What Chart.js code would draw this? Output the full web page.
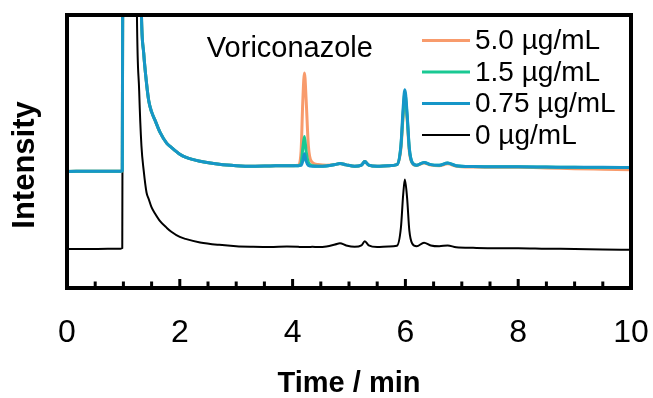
<!DOCTYPE html>
<html>
<head>
<meta charset="utf-8">
<title>Voriconazole chromatogram</title>
<script src="https://cdn.jsdelivr.net/npm/chart.js@4.4.0/dist/chart.umd.min.js"></script>
<style>
    html, body { margin: 0; padding: 0; background: #fff; }
    #wrap { width: 653px; height: 398px; }
</style>
</head>
<body>
<div id="wrap"><canvas id="chromatogramChart"></canvas></div>
<script>
// retention time (min)
const times = [0, 0.5, 0.95, 0.98, 1.01, 1.1, 1.2, 1.235, 1.28, 1.32, 1.36, 1.41, 1.45, 1.5, 1.56, 1.65,
    1.77, 1.85, 2.0, 2.1, 2.36, 2.7, 3.0, 3.3, 3.6, 3.9, 4.1, 4.15, 4.18, 4.21, 4.24, 4.28,
    4.35, 4.45, 4.6, 4.75, 4.84, 4.95, 5.1, 5.22, 5.28, 5.35, 5.5, 5.7, 5.85, 5.92, 5.96, 5.99,
    6.03, 6.07, 6.12, 6.2, 6.33, 6.45, 6.6, 6.75, 6.9, 7.2, 7.6, 8.0, 8.5, 9.0, 9.5, 10];

// intensity (arbitrary units, offset traces)
const conc5 = [42.7, 42.8, 42.8, 43.0, 300, 400, 350, 250, 160, 100, 86, 75, 68.5, 64.5, 61.5, 57,
    53, 51.5, 49, 47.9, 46.4, 45.3, 44.8, 44.6, 44.7, 44.8, 45.0, 50, 68, 78.8, 69, 52,
    46, 45.2, 45.0, 45.2, 45.6, 45.1, 44.6, 45.0, 46.3, 45.0, 44.6, 44.8, 45.2, 51, 63, 70,
    62, 50, 45.8, 44.9, 45.8, 45.0, 44.8, 45.5, 44.6, 44.3, 44.2, 44.2, 44.0, 43.7, 43.5, 43.3];
const conc15 = [42.7, 42.8, 42.8, 43.0, 300, 400, 350, 250, 160, 100, 86, 75, 68.5, 64.5, 61.5, 57,
    53, 51.5, 49, 47.9, 46.4, 45.3, 44.8, 44.6, 44.7, 44.8, 44.8, 45.6, 51, 55.5, 50, 46,
    44.8, 44.6, 44.7, 45.2, 45.6, 45.1, 44.6, 45.0, 46.3, 45.0, 44.6, 44.8, 45.2, 52, 64, 71.5,
    63, 51, 46, 45.0, 46.0, 45.2, 45.0, 45.8, 44.8, 44.5, 44.4, 44.4, 44.3, 44.2, 44.1, 44.1];
const conc075 = [42.7, 42.8, 42.8, 43.0, 300, 400, 350, 250, 160, 100, 86, 75, 68.5, 64.5, 61.5, 57,
    53, 51.5, 49, 47.9, 46.4, 45.3, 44.8, 44.6, 44.7, 44.8, 44.8, 44.9, 46.5, 49.2, 46.5, 44.9,
    44.6, 44.6, 44.7, 45.2, 45.6, 45.1, 44.6, 45.0, 46.3, 45.0, 44.6, 44.8, 45.2, 52, 66, 72.6,
    64, 51, 46, 45.0, 46.0, 45.2, 45.0, 45.8, 44.8, 44.5, 44.4, 44.4, 44.3, 44.2, 44.2, 44.1];
const conc0 = [14.3, 14.3, 14.4, 14.6, 300, 400, 250, 110, 72, 52, 43, 35, 32.5, 29.5, 27.3, 24.5,
    22, 20.6, 18.7, 18, 16.7, 15.8, 15.3, 15.1, 15.0, 15.2, 15.1, 15.0, 15.0, 15.0, 15.0, 15.0,
    15.1, 15.0, 15.2, 15.9, 16.4, 15.6, 15.1, 15.6, 17.1, 15.6, 15.0, 15.2, 15.5, 22, 34, 39.7,
    33, 21, 16.3, 15.3, 16.6, 15.6, 15.3, 15.6, 14.9, 14.7, 14.6, 14.6, 14.4, 14.3, 14.1, 14.0];

const seriesLabels = ['5.0 µg/mL', '1.5 µg/mL', '0.75 µg/mL', '0 µg/mL'];
const seriesColors = ['#F89B6C', '#19C993', '#1696C8', '#000000'];
const xTickLabels = [0, 2, 4, 6, 8, 10];

const fontFamily = '"Liberation Sans", Arial, sans-serif';
Chart.defaults.font.family = fontFamily;
Chart.defaults.color = '#000';

function toPoints(values) {
    return times.map((t, i) => ({ x: t, y: values[i] }));
}

// frame, inward ticks, legend and labels drawn on top of the plot
const framePlugin = {
    id: 'framePlugin',
    afterDraw(chart) {
        const { ctx, chartArea: a, scales: { x } } = chart;
        ctx.save();
        ctx.strokeStyle = '#000';

        // inward tick marks every 0.5 min, longer at labelled ones
        ctx.lineWidth = 3;
        x.ticks.forEach(tick => {
            if (tick.value <= 0 || tick.value >= 10) return;
            const px = x.getPixelForValue(tick.value);
            const len = xTickLabels.includes(tick.value) ? 9 : 6.5;
            ctx.beginPath();
            ctx.moveTo(px, a.bottom);
            ctx.lineTo(px, a.bottom - len);
            ctx.stroke();
        });

        ctx.lineWidth = 4;
        ctx.strokeRect(a.left, a.top, a.right - a.left, a.bottom - a.top);

        // legend
        ctx.font = '28px ' + fontFamily;
        ctx.textBaseline = 'middle';
        ctx.textAlign = 'left';
        seriesLabels.forEach((label, i) => {
            const y = a.top + 25.5 + i * 31.5;
            ctx.strokeStyle = seriesColors[i];
            ctx.lineWidth = i === 3 ? 2 : 3;
            ctx.beginPath();
            ctx.moveTo(a.right - 209, y);
            ctx.lineTo(a.right - 161, y);
            ctx.stroke();
            ctx.fillStyle = '#000';
            ctx.fillText(label, a.right - 156, y + 1);
        });

        // peak annotation
        ctx.font = '29px ' + fontFamily;
        ctx.textBaseline = 'alphabetic';
        ctx.fillText('Voriconazole', x.getPixelForValue(2.48), a.top + 41.5);

        // y axis title
        ctx.font = 'bold 31px ' + fontFamily;
        ctx.textAlign = 'center';
        ctx.textBaseline = 'middle';
        ctx.translate(25, 165);
        ctx.rotate(-Math.PI / 2);
        ctx.fillText('Intensity', 0, 0);
        ctx.restore();
    }
};

const ctx = document.getElementById('chromatogramChart').getContext('2d');
window.chromatogramChart = new Chart(ctx, {
    type: 'line',
    data: {
        datasets: [
            { label: seriesLabels[0], data: toPoints(conc5), borderColor: seriesColors[0], borderWidth: 3, order: 2 },
            { label: seriesLabels[1], data: toPoints(conc15), borderColor: seriesColors[1], borderWidth: 3, order: 1 },
            { label: seriesLabels[2], data: toPoints(conc075), borderColor: seriesColors[2], borderWidth: 3, order: 0 },
            { label: seriesLabels[3], data: toPoints(conc0), borderColor: seriesColors[3], borderWidth: 2, order: 3 }
        ]
    },
    options: {
        responsive: true,
        maintainAspectRatio: false,
        animation: false,
        layout: { padding: { left: 67, right: 22, top: 15, bottom: 0 } },
        elements: {
            point: { radius: 0 },
            line: { cubicInterpolationMode: 'monotone', fill: false }
        },
        plugins: {
            legend: { display: false },
            tooltip: { enabled: false }
        },
        scales: {
            x: {
                type: 'linear',
                min: 0,
                max: 10,
                grid: { display: false, drawTicks: false },
                border: { display: false },
                ticks: {
                    stepSize: 0.5,
                    autoSkip: false,
                    maxRotation: 0,
                    minRotation: 0,
                    padding: 26,
                    font: { size: 32 },
                    callback: value => xTickLabels.includes(value) ? value : ''
                },
                title: {
                    display: true,
                    text: 'Time / min',
                    font: { size: 29, weight: 'bold', lineHeight: 1 },
                    padding: { top: 0, bottom: 0 }
                },
                afterFit: scale => {
                    scale.height = 110;
                    scale.paddingLeft = 0;
                    scale.paddingRight = 0;
                }
            },
            y: {
                display: false,
                min: 0,
                max: 100
            }
        }
    },
    plugins: [framePlugin]
});
</script>
</body>
</html>
